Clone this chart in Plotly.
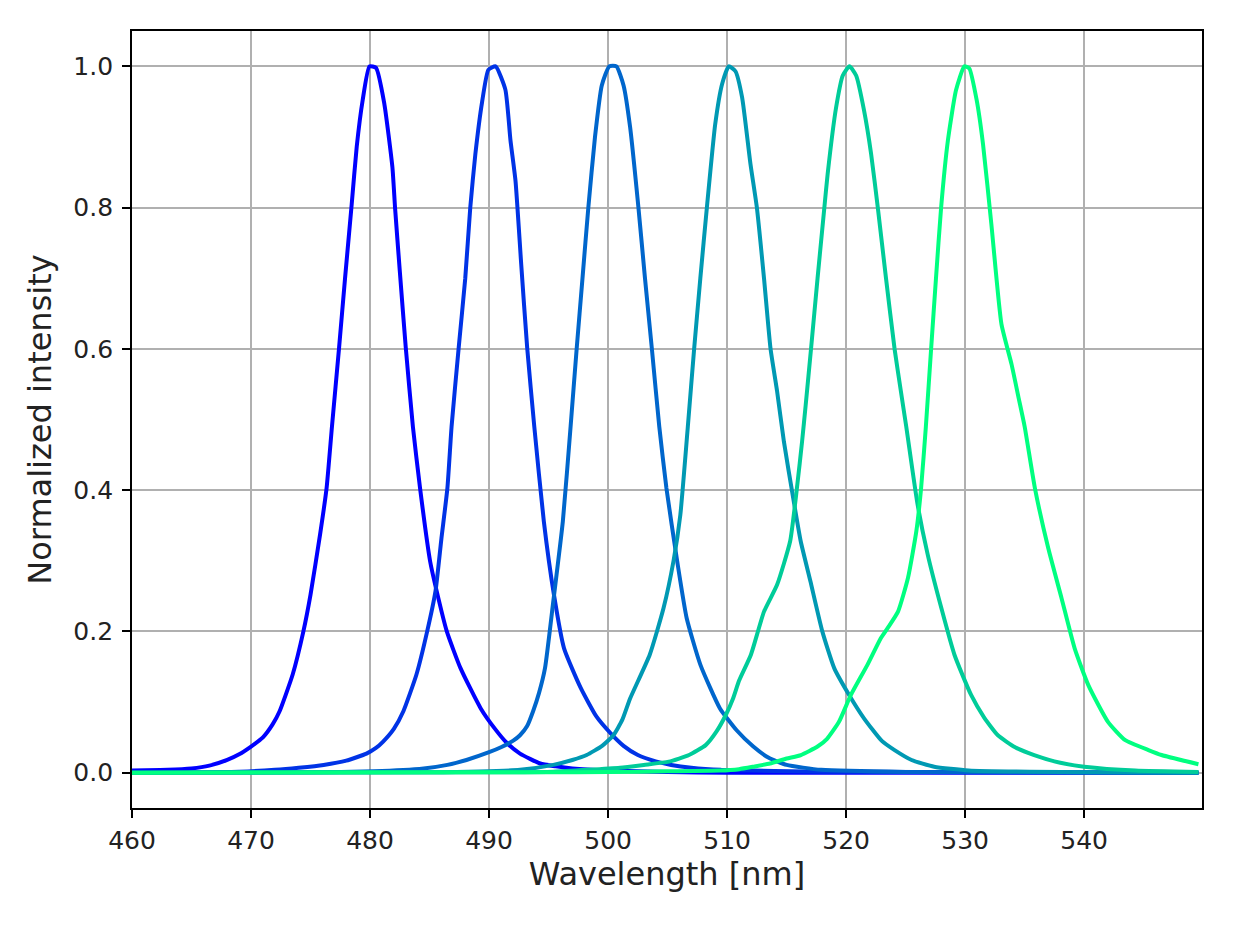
import plotly.graph_objects as go

# Wavelength samples (nm) and normalized intensities
x_480 = [460, 463, 465, 466.5, 468, 469, 470, 471, 471.8, 472.4, 473.5, 474.4, 475, 475.8, 476.35, 476.8,
         477.4, 477.9, 478.46, 478.88, 479.38, 479.95, 480.5, 481.18, 481.88, 482.1, 482.5, 483.0, 483.6,
         484.2, 485.05, 485.6, 486.45, 487.6, 489.3, 490.5, 491.5, 492.6, 494.3, 495.6, 497, 500, 505,
         510, 520, 549.6]
y_480 = [0.003, 0.004, 0.006, 0.010, 0.018, 0.026, 0.037, 0.05, 0.068, 0.087, 0.139, 0.2, 0.252, 0.337,
         0.403, 0.49, 0.602, 0.70, 0.805, 0.886, 0.952, 1.0, 0.998, 0.949, 0.857, 0.80, 0.71, 0.602, 0.49,
         0.403, 0.299, 0.257, 0.2, 0.148, 0.091, 0.062, 0.042, 0.027, 0.013, 0.009, 0.006, 0.003, 0.001,
         0.0, 0.0, 0.0]

x_490 = [460, 469, 472, 474, 476.1, 478, 479.7, 480.5, 481.1, 482, 482.8, 483.9, 484.8, 485.5, 486.0,
         486.5, 486.85, 487.45, 488.0, 488.42, 488.85, 489.41, 489.94, 490.55, 491.37, 491.8, 492.22,
         492.7, 493.2, 493.8, 494.6, 495.45, 496.3, 497.7, 499, 500.2, 501.3, 502.5, 504, 505.3, 507,
         509.5, 518, 549.6]
y_490 = [0.0, 0.0014, 0.004, 0.007, 0.011, 0.017, 0.027, 0.035, 0.044, 0.062, 0.087, 0.139, 0.2, 0.257,
         0.332, 0.403, 0.49, 0.602, 0.70, 0.80, 0.876, 0.949, 0.995, 1.0, 0.967, 0.895, 0.838,
         0.72, 0.602, 0.49, 0.356, 0.252, 0.176, 0.12, 0.08, 0.056, 0.038, 0.025, 0.016, 0.011, 0.007,
         0.004, 0.0014, 0.0]

x_500 = [460, 475, 480.3, 484.5, 486.5, 488.1, 490.0, 491.0, 492.0, 492.6, 493.2, 493.7, 494.2, 494.7,
         495.4, 496.2, 496.85, 497.36, 497.85, 498.34, 498.9, 499.47, 500.1, 500.7, 501.3, 501.85, 502.55,
         503.1, 503.68, 504.3, 504.9, 505.8, 506.6, 507.75, 509.4, 510.8, 512.2, 513.5, 515.0, 517.9,
         525, 549.6]
y_500 = [0.0, 0.0005, 0.002, 0.006, 0.011, 0.018, 0.029, 0.036, 0.045, 0.053, 0.066, 0.087, 0.113, 0.148,
         0.243, 0.356, 0.49, 0.60, 0.70, 0.80, 0.90, 0.973, 1.0, 1.0, 0.973, 0.914, 0.80,
         0.70, 0.60, 0.49, 0.403, 0.30, 0.219, 0.153, 0.091, 0.06, 0.037, 0.021, 0.011, 0.004,
         0.001, 0.0]

x_510 = [460, 485, 492.6, 495.4, 497, 498.2, 499.5, 500.45, 501.2, 501.85, 503.5, 504.66, 505.5, 506.07,
         506.7, 507.23, 507.75, 508.3, 509.0, 509.58, 510.14, 510.7, 511.26, 511.96, 512.5, 513.1, 513.65,
         514.2, 514.77, 515.6, 516.18, 517.0, 518.0, 519.0, 520.25, 521.5, 523.0, 524.07, 525.5, 527.4,
         530.3, 540, 549.6]
y_510 = [0.0, 0.0005, 0.004, 0.011, 0.018, 0.025, 0.038, 0.053, 0.075, 0.105, 0.167, 0.233, 0.30, 0.365,
         0.49, 0.60, 0.70, 0.80, 0.918, 0.975, 1.0, 0.993, 0.956, 0.862, 0.80, 0.70, 0.60,
         0.54, 0.469, 0.384, 0.328, 0.271, 0.20, 0.148, 0.11, 0.077, 0.045, 0.032, 0.018, 0.0085,
         0.003, 0.0005, 0.0]

x_520 = [460, 490, 495.4, 501.0, 503.0, 505.1, 506.8, 508.2, 509.1, 509.9, 510.5, 511.0, 512.0, 513.1,
         514.2, 515.3, 515.9, 516.3, 516.6, 517.05, 517.6, 518.17, 518.45, 519.16, 519.72, 520.28, 520.84,
         521.5, 522.1, 522.66, 523.35, 524.07, 524.6, 525.05, 526.0, 526.85, 528.0, 529.1, 530.5, 531.6,
         532.75, 534.2, 535.8, 538.0, 540.0, 544.3, 549.6]
y_520 = [0.0, 0.0005, 0.0014, 0.007, 0.011, 0.0156, 0.025, 0.039, 0.058, 0.082, 0.105, 0.13, 0.167, 0.228,
         0.266, 0.328, 0.408, 0.469, 0.52, 0.60, 0.70, 0.80, 0.848, 0.942, 0.987, 1.0, 0.987,
         0.938, 0.876, 0.80, 0.70, 0.60, 0.54, 0.49, 0.38, 0.309, 0.233, 0.167, 0.11, 0.078,
         0.053, 0.036, 0.025, 0.014, 0.0085, 0.003, 0.001]

x_530 = [460, 495, 500, 505, 509.4, 511.0, 512.2, 513.6, 515.0, 516.2, 517.6, 518.4, 519.4, 520.4,
         521.8, 522.9, 523.5, 524.36, 525.2, 525.9, 526.3, 526.7, 527.14, 527.55, 527.98, 528.55, 529.23,
         529.93, 530.35, 530.97, 531.5, 532.2, 533.05, 533.9, 534.5, 535.0, 535.86, 536.98, 538.1, 539.2,
         540.35, 542.0, 543.45, 545.4, 546.5, 549.6]
y_530 = [0.0, 0.0005, 0.001, 0.002, 0.003, 0.005, 0.0085, 0.013, 0.02, 0.025, 0.037, 0.048, 0.072, 0.11,
         0.153, 0.19, 0.205, 0.228, 0.276, 0.342, 0.403, 0.49, 0.60, 0.70, 0.80, 0.895, 0.966,
         1.0, 0.997, 0.952, 0.89, 0.777, 0.635, 0.578, 0.53, 0.49, 0.403, 0.318, 0.247, 0.176,
         0.124, 0.072, 0.046, 0.032, 0.025, 0.012]

series_x = [x_480, x_490, x_500, x_510, x_520, x_530]
series_y = [y_480, y_490, y_500, y_510, y_520, y_530]
colors = ["rgb(0,0,255)", "rgb(0,51,230)", "rgb(0,102,204)", "rgb(0,153,179)", "rgb(0,204,153)", "rgb(0,255,128)"]

x_ticks = [460, 470, 480, 490, 500, 510, 520, 530, 540]
y_ticks = [0.0, 0.2, 0.4, 0.6, 0.8, 1.0]

fig = go.Figure()
for xs, ys, c in zip(series_x, series_y, colors):
    fig.add_trace(go.Scatter(x=xs, y=ys, mode="lines",
                             line=dict(color=c, width=4, shape="spline", smoothing=0.5),
                             showlegend=False))

axis_common = dict(
    showline=True, linecolor="black", linewidth=1.8, mirror=True,
    showgrid=True, gridcolor="#b0b0b0", gridwidth=1.6,
    ticks="outside", ticklen=8, tickwidth=1.6, tickcolor="black",
    zeroline=False,
    tickfont=dict(family="DejaVu Sans", size=25, color="#222"),
    title_font=dict(family="DejaVu Sans", size=32, color="#222"),
)

fig.update_xaxes(range=[460, 549.9], tickvals=x_ticks, ticktext=[str(v) for v in x_ticks],
                 title_text="Wavelength [nm]", title_standoff=8, ticklabelstandoff=1, **axis_common)
fig.update_yaxes(range=[-0.05, 1.05], tickvals=y_ticks, ticktext=[f"{v:.1f}" for v in y_ticks],
                 title_text="Normalized intensity", title_standoff=12, ticklabelstandoff=4, **axis_common)

fig.update_layout(
    width=1234, height=925,
    margin=dict(l=132, r=32, t=31, b=117),
    plot_bgcolor="white", paper_bgcolor="white",
    font=dict(family="DejaVu Sans"),
)

fig.write_html("out.html")
